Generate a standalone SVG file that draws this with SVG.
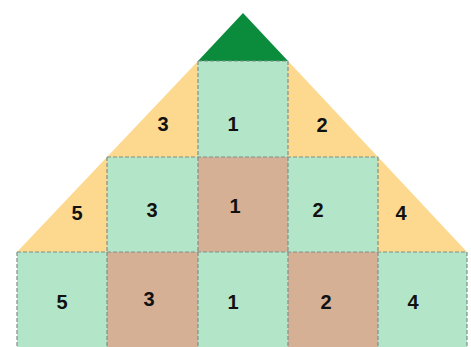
<svg xmlns="http://www.w3.org/2000/svg" width="471" height="347" viewBox="0 0 471 347">
<style>
.g{fill:#b3e6c9}
.b{fill:#d5b095}
.o{fill:#fcd98f}
.top{fill:#0b8c3c}
.e{fill:none;stroke:#7f8f8a;stroke-width:1.2;stroke-dasharray:4 2}
text{font-family:"Liberation Sans",Arial,sans-serif;font-weight:bold;font-size:20px;fill:#111;text-anchor:middle}
</style>
<rect width="471" height="347" fill="#ffffff"/>
<g id="roof"><polygon class="top" points="198,61 243,13 288,61"/></g>
<g id="tri-top-left"><polygon class="o" points="107,157 198,61 198,157"/><text x="163" y="131">3</text></g>
<g id="tri-top-right"><polygon class="o" points="288,61 288,157 378,157"/><text x="322" y="132">2</text></g>
<g id="tri-mid-left"><polygon class="o" points="17,252 107,157 107,252"/><text x="77" y="220">5</text></g>
<g id="tri-mid-right"><polygon class="o" points="378,157 378,252 467,252"/><text x="401" y="220">4</text></g>
<g id="sq-top-1"><rect class="g" x="198" y="61" width="90" height="96"/><text x="233" y="131">1</text></g>
<g id="sq-mid-3"><rect class="g" x="107" y="157" width="91" height="95"/><text x="152" y="217">3</text></g>
<g id="sq-mid-1"><rect class="b" x="198" y="157" width="90" height="95"/><text x="235" y="213">1</text></g>
<g id="sq-mid-2"><rect class="g" x="288" y="157" width="90" height="95"/><text x="318" y="217">2</text></g>
<g id="sq-bot-5"><rect class="g" x="17" y="252" width="90" height="95"/><text x="62" y="309">5</text></g>
<g id="sq-bot-3"><rect class="b" x="107" y="252" width="91" height="95"/><text x="149" y="306">3</text></g>
<g id="sq-bot-1"><rect class="g" x="198" y="252" width="90" height="95"/><text x="233" y="309">1</text></g>
<g id="sq-bot-2"><rect class="b" x="288" y="252" width="90" height="95"/><text x="326" y="309">2</text></g>
<g id="sq-bot-4"><rect class="g" x="378" y="252" width="89" height="95"/><text x="413" y="309">4</text></g>
<g id="edges">
<path class="e" d="M198,61 H288 M198,61 V252 M288,61 V252 M107,157 H378 M107,157 V252 M378,157 V252 M17,252 H467 M17,252 V347 M107,252 V347 M198,252 V347 M288,252 V347 M378,252 V347 M467,252 V347"/>
</g>
</svg>
